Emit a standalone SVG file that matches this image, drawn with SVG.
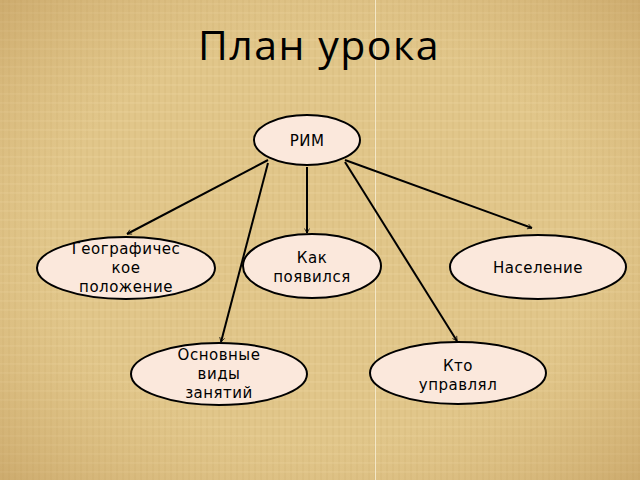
<svg xmlns="http://www.w3.org/2000/svg" width="640" height="480" viewBox="0 0 640 480">
<defs>
<style>
.node ellipse{fill:#fbe8dc;stroke:#000;stroke-width:2}
.node text{font-family:"DejaVu Sans","Noto Sans",sans-serif;font-size:15px;fill:#000;text-anchor:middle;letter-spacing:0.5px}
.edge{stroke:#000;stroke-width:2;fill:none;marker-end:url(#arr)}
.title{font-family:"Open Sans","Noto Sans",sans-serif;font-size:41px;fill:#000;text-anchor:middle;letter-spacing:1.5px}
</style>
<marker id="arr" viewBox="0 0 10 10" refX="9" refY="5" markerWidth="5" markerHeight="5" orient="auto" markerUnits="userSpaceOnUse" overflow="visible">
<path d="M0,0 L9,5 L0,10" fill="none" stroke="#000" stroke-width="1.5"/>
</marker>
<pattern id="tex" width="12" height="9" patternUnits="userSpaceOnUse">
<rect width="12" height="9" fill="#e1c68a"/>
<path d="M3,0 V9 M9,0 V9" stroke="#d3b676" stroke-width="1" opacity="0.6"/>
<path d="M0,4 H12" stroke="#ecd49e" stroke-width="1" opacity="0.6"/>
</pattern>
<radialGradient id="vig" cx="50%" cy="50%" r="70%">
<stop offset="0.6" stop-color="#c8a060" stop-opacity="0"/>
<stop offset="1" stop-color="#b08546" stop-opacity="0.4"/>
</radialGradient>
</defs>
<rect width="640" height="480" fill="url(#tex)"/>
<rect width="640" height="480" fill="url(#vig)"/>
<line x1="375.5" y1="0" x2="375.5" y2="480" stroke="#f4e8c8" stroke-width="1"/>
<text class="title" x="319" y="60">План урока</text>
<g id="connectors">
<line class="edge" x1="268" y1="160" x2="127" y2="234"/>
<line class="edge" x1="307" y1="167" x2="307" y2="233"/>
<line class="edge" x1="345" y1="160" x2="532" y2="228"/>
<line class="edge" x1="268" y1="163" x2="221" y2="342"/>
<line class="edge" x1="345" y1="162" x2="457" y2="341"/>
</g>
<g id="rim" class="node"><ellipse cx="307" cy="140" rx="53" ry="25"/><text x="307" y="146">РИМ</text></g>
<g id="geo" class="node"><ellipse cx="126" cy="268" rx="89" ry="31"/><text x="126" y="254">Географичес</text><text x="126" y="273">кое</text><text x="126" y="292">положение</text></g>
<g id="kak" class="node"><ellipse cx="312" cy="266" rx="69" ry="32"/><text x="312" y="263">Как</text><text x="312" y="282">появился</text></g>
<g id="nas" class="node"><ellipse cx="538" cy="267" rx="88" ry="32"/><text x="538" y="273">Население</text></g>
<g id="osn" class="node"><ellipse cx="219" cy="374" rx="88" ry="31"/><text x="219" y="360">Основные</text><text x="219" y="379">виды</text><text x="219" y="398">занятий</text></g>
<g id="kto" class="node"><ellipse cx="458" cy="373" rx="88" ry="31"/><text x="458" y="371">Кто</text><text x="458" y="390">управлял</text></g>
</svg>
